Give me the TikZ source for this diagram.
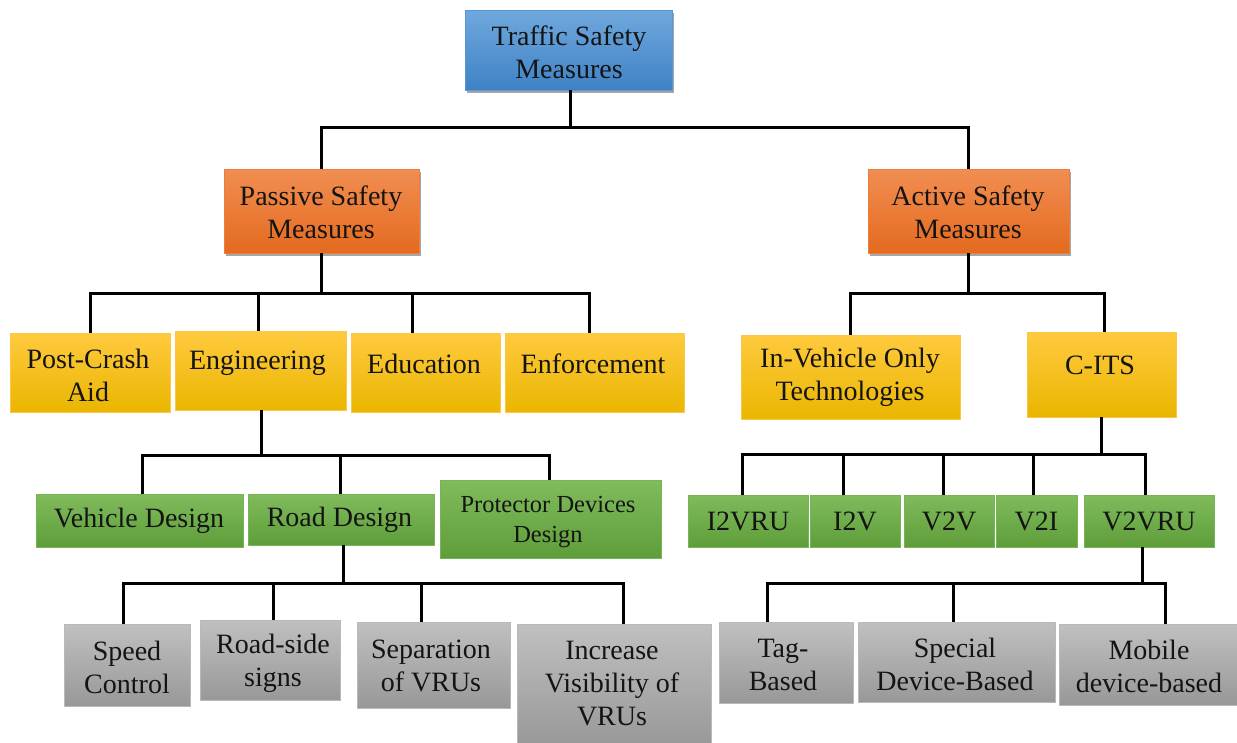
\documentclass[tikz,border=0pt]{standalone}
\usepackage{fontspec}
\setmainfont{Liberation Serif}
\usetikzlibrary{shadows,calc}
\definecolor{bluT}{RGB}{112,168,221}
\definecolor{bluB}{RGB}{62,130,198}
\definecolor{bluD}{RGB}{90,150,210}
\definecolor{orT}{RGB}{241,142,82}
\definecolor{orB}{RGB}{228,106,30}
\definecolor{orD}{RGB}{236,125,60}
\definecolor{yeT}{RGB}{255,202,62}
\definecolor{yeB}{RGB}{234,182,0}
\definecolor{yeD}{RGB}{250,200,70}
\definecolor{grT}{RGB}{128,187,92}
\definecolor{grB}{RGB}{94,158,58}
\definecolor{grD}{RGB}{120,180,85}
\definecolor{gyT}{RGB}{192,192,192}
\definecolor{gyB}{RGB}{152,152,152}
\definecolor{gyD}{RGB}{185,185,185}
\definecolor{txtc}{RGB}{20,20,20}
\tikzset{
  boxbase/.style={rectangle, inner sep=0pt, line width=0.8pt},
  bluebox/.style={boxbase, top color=bluT, bottom color=bluB, draw=bluD},
  orbox/.style={boxbase, top color=orT, bottom color=orB, draw=orD},
  yebox/.style={boxbase, top color=yeT, bottom color=yeB, draw=yeD},
  grbox/.style={boxbase, top color=grT, bottom color=grB, draw=grD},
  gybox/.style={boxbase, top color=gyT, bottom color=gyB, draw=gyD},
  shad/.style={drop shadow={shadow xshift=2pt, shadow yshift=-3pt, opacity=0.35, fill=black}},
  txt/.style={font=\fontsize{28}{33}\selectfont, align=center, inner sep=0pt, text=txtc},
  stxt/.style={font=\fontsize{24.5}{30}\selectfont, align=center, inner sep=0pt, text=txtc},
  conn/.style={line width=3pt, draw=black, line join=miter}
}
\begin{document}
\begin{tikzpicture}[x=1pt, y=-1pt]
\useasboundingbox[fill=white] (0,0) rectangle (1237,742);
% level 0
\node[bluebox, shad, minimum width=207pt, minimum height=80pt] (root) at (568.5,50) {};
\node[txt] (rootT) at (569,52) {Traffic Safety\\Measures};
% level 1
\node[orbox, shad, minimum width=195pt, minimum height=84pt] (passive) at (321.5,211) {};
\node[txt] (passiveT) at (321,212) {Passive Safety\\Measures};
\node[orbox, shad, minimum width=201pt, minimum height=84pt] (active) at (968.5,211) {};
\node[txt] (activeT) at (968,212) {Active Safety\\Measures};
% level 2
\node[yebox, minimum width=160pt, minimum height=79pt] (post) at (90,372.5) {};
\node[txt] (postT) at (88,375) {Post-Crash\\Aid};
\node[yebox, minimum width=171pt, minimum height=79pt] (eng) at (260.5,370.5) {};
\node[txt] (engT) at (257.5,363) {Engineering};
\node[yebox, minimum width=149pt, minimum height=79pt] (edu) at (425.5,372.5) {};
\node[txt] (eduT) at (424,364) {Education};
\node[yebox, minimum width=179pt, minimum height=79pt] (enf) at (594.5,372.5) {};
\node[txt] (enfT) at (593,364) {Enforcement};
\node[yebox, minimum width=219pt, minimum height=84pt] (inveh) at (850.5,377) {};
\node[txt] (invehT) at (850,377) {In-Vehicle Only\\Technologies};
\node[yebox, minimum width=149pt, minimum height=85pt] (cits) at (1101.5,374.5) {};
\node[txt] (citsT) at (1100,365) {C-ITS};
% level 3
\node[grbox, minimum width=207pt, minimum height=53pt] (veh) at (139.5,520.5) {};
\node[txt] (vehT) at (139,521) {Vehicle Design};
\node[grbox, minimum width=186pt, minimum height=51pt] (road) at (341,519.5) {};
\node[txt] (roadT) at (339.5,520) {Road Design};
\node[grbox, minimum width=221pt, minimum height=78pt] (prot) at (550.5,519) {};
\node[stxt] (protT) at (548,522) {Protector Devices\\Design};
\node[grbox, minimum width=120pt, minimum height=52pt] (i2vru) at (748,521) {};
\node[txt] (i2vruT) at (748,521) {I2VRU};
\node[grbox, minimum width=90pt, minimum height=52pt] (i2v) at (855,521) {};
\node[txt] (i2vT) at (855,521) {I2V};
\node[grbox, minimum width=90pt, minimum height=52pt] (v2v) at (949,521) {};
\node[txt] (v2vT) at (949,521) {V2V};
\node[grbox, minimum width=81pt, minimum height=52pt] (v2i) at (1036.5,521) {};
\node[txt] (v2iT) at (1036.5,521) {V2I};
\node[grbox, minimum width=130pt, minimum height=52pt] (v2vru) at (1149,521) {};
\node[txt] (v2vruT) at (1149,521) {V2VRU};
% level 4
\node[gybox, minimum width=126pt, minimum height=82pt] (speed) at (127,665) {};
\node[txt] (speedT) at (127,667.5) {Speed\\Control};
\node[gybox, minimum width=140pt, minimum height=80pt] (rside) at (270,660) {};
\node[txt] (rsideT) at (273,663.5) {Road-side\\signs};
\node[gybox, minimum width=153pt, minimum height=86pt] (sep) at (433.5,665) {};
\node[txt] (sepT) at (431,666) {Separation\\of VRUs};
\node[gybox, minimum width=194pt, minimum height=121pt] (incr) at (614,684.5) {};
\node[txt] (incrT) at (612,684) {Increase\\Visibility of\\VRUs};
\node[gybox, minimum width=134pt, minimum height=81pt] (tag) at (786,662.5) {};
\node[txt] (tagT) at (783,664.5) {Tag-\\Based};
\node[gybox, minimum width=197pt, minimum height=80pt] (spec) at (956.5,662) {};
\node[txt] (specT) at (955,664) {Special\\Device-Based};
\node[gybox, minimum width=178pt, minimum height=81pt] (mob) at (1148,664.5) {};
\node[txt] (mobT) at (1149,666) {Mobile\\device-based};
% connectors
\draw[conn] ([xshift=1.5pt]root.south) -- ++(0,37) -| (passive.north);
\draw[conn] ([xshift=1.5pt]root.south) -- ++(0,37) -| (active.north);
\draw[conn] (passive.south) -- ++(0,40) -| (post.north);
\draw[conn] (passive.south) -- ++(0,40) -| ([xshift=-2.5pt]eng.north);
\draw[conn] (passive.south) -- ++(0,40) -| ([xshift=-13.5pt]edu.north);
\draw[conn] (passive.south) -- ++(0,40) -| ([xshift=-5.5pt]enf.north);
\draw[conn] (active.south) -- ++(0,40) -| (inveh.north);
\draw[conn] (active.south) -- ++(0,40) -| ([xshift=2.5pt]cits.north);
\draw[conn] ([xshift=0.5pt]eng.south) -- ++(0,45) -| ([xshift=2.5pt]veh.north);
\draw[conn] ([xshift=0.5pt]eng.south) -- ++(0,45) -| ([xshift=-1pt]road.north);
\draw[conn] ([xshift=0.5pt]eng.south) -- ++(0,45) -| ([xshift=-1.5pt]prot.north);
\draw[conn] (cits.south) -- ++(0,37) -| ([xshift=-6pt]i2vru.north);
\draw[conn] (cits.south) -- ++(0,37) -| ([xshift=-12pt]i2v.north);
\draw[conn] (cits.south) -- ++(0,37) -| ([xshift=-6pt]v2v.north);
\draw[conn] (cits.south) -- ++(0,37) -| ([xshift=-3.5pt]v2i.north);
\draw[conn] (cits.south) -- ++(0,37) -| ([xshift=-4pt]v2vru.north);
\draw[conn] ([xshift=2pt]road.south) -- ++(0,38) -| ([xshift=-4pt]speed.north);
\draw[conn] ([xshift=2pt]road.south) -- ++(0,38) -| ([xshift=3pt]rside.north);
\draw[conn] ([xshift=2pt]road.south) -- ++(0,38) -| ([xshift=-12.5pt]sep.north);
\draw[conn] ([xshift=2pt]road.south) -- ++(0,38) -| ([xshift=9pt]incr.north);
\draw[conn] ([xshift=-7pt]v2vru.south) -- ++(0,36) -| ([xshift=-19pt]tag.north);
\draw[conn] ([xshift=-7pt]v2vru.south) -- ++(0,36) -| ([xshift=-3.5pt]spec.north);
\draw[conn] ([xshift=-7pt]v2vru.south) -- ++(0,36) -| ([xshift=17pt]mob.north);
\end{tikzpicture}
\end{document}
